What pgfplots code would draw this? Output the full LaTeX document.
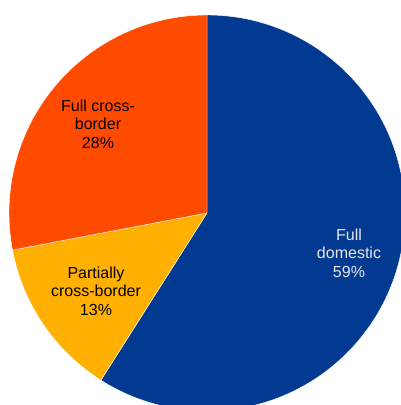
\documentclass[border=0pt]{standalone}
\usepackage{pgfplots}
\usepackage{pgfplotstable}
\pgfplotsset{compat=1.18}
\usepackage{fontspec}
\setmainfont{Liberation Sans}
\definecolor{cdom}{HTML}{023A92}
\definecolor{cpart}{HTML}{FFB000}
\definecolor{ccross}{HTML}{FF4B00}
\pgfplotstableread{
label value
dom 59
part 13
cross 28
}\piedata
\begin{document}
\begin{tikzpicture}
\begin{axis}[x=1pt,y=1pt,scale only axis,
  xmin=-207,xmax=194,ymin=-192,ymax=213,
  hide axis, clip=true]
\pgfplotsextra{
  \gdef\angA{90}
  \foreach \i/\col in {0/cdom,1/cpart,2/ccross}{
    \pgfplotstablegetelem{\i}{value}\of\piedata
    \pgfmathsetmacro{\angB}{\angA-3.6*\pgfplotsretval}
    \fill[fill=\col,draw=white,line width=0.4pt] (axis cs:0,0) -- ++(\angA:198pt) arc[start angle=\angA,end angle=\angB,radius=198pt] -- cycle;
    \xdef\angA{\angB}
  }
}
\node[align=center,font=\fontsize{16}{18.5}\selectfont,text=white!90!black] at (axis cs:142,-40) {Full\\domestic\\59\%};
\node[align=center,font=\fontsize{16}{18.5}\selectfont,text=black] at (axis cs:-111,-78) {Partially\\cross-border\\13\%};
\node[align=center,font=\fontsize{16}{18.5}\selectfont,text=black] at (axis cs:-109,89) {Full cross-\\border\\28\%};
\end{axis}
\pgfresetboundingbox
\useasboundingbox (current axis.south west) rectangle (current axis.north east);
\end{tikzpicture}
\end{document}
